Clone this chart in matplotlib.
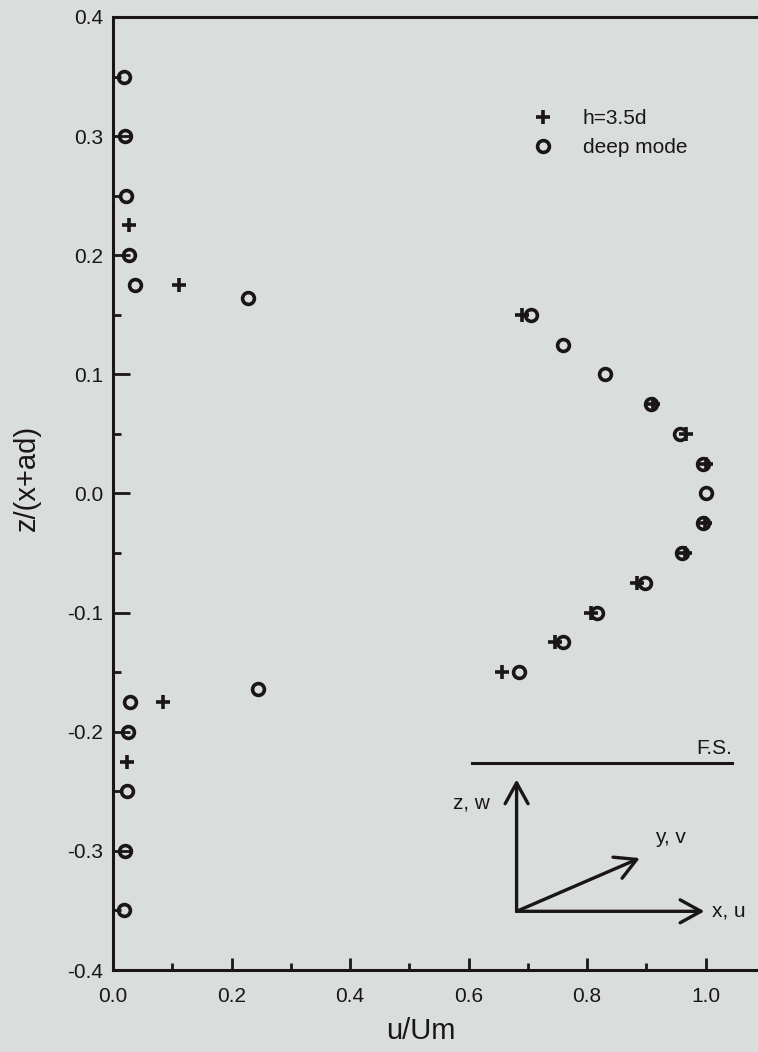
import numpy as np
import matplotlib as mpl
import matplotlib.pyplot as plt

mpl.rcParams['font.family'] = ['Liberation Sans', 'DejaVu Sans']
mpl.rcParams['font.size'] = 15

ink = '#1b1616'
paper = '#d9dddb'

# h=3.5d 实验点
h35_u = [0.027, 0.111, 0.69, 0.912, 0.967, 1.0, 0.999, 0.965, 0.884, 0.806, 0.746, 0.656, 0.085, 0.024]
h35_z = [0.225, 0.175, 0.15, 0.075, 0.05, 0.025, -0.025, -0.05, -0.075, -0.1, -0.125, -0.15, -0.175, -0.225]

# deep mode 实验点
deep_u = [0.019, 0.02, 0.022, 0.027, 0.037, 0.228, 0.705, 0.76, 0.83, 0.907, 0.956, 0.995, 1.0,
          0.995, 0.96, 0.897, 0.817, 0.76, 0.685, 0.245, 0.029, 0.025, 0.024, 0.02, 0.019]
deep_z = [0.35, 0.3, 0.25, 0.2, 0.175, 0.164, 0.15, 0.125, 0.1, 0.075, 0.05, 0.025, 0.0,
          -0.025, -0.05, -0.075, -0.1, -0.125, -0.15, -0.164, -0.175, -0.2, -0.25, -0.3, -0.35]

xticks = [0.0, 0.2, 0.4, 0.6, 0.8, 1.0]
yticks = [-0.4, -0.3, -0.2, -0.1, 0.0, 0.1, 0.2, 0.3, 0.4]

fig = plt.figure(figsize=(7.58, 10.52), dpi=100, facecolor=paper)
ax = fig.add_axes([0.1491, 0.0779, 0.860, 0.906], facecolor=paper)

ax.plot(h35_u, h35_z, ls='none', marker='+', ms=10, mew=2.6, color=ink, label='h=3.5d')
ax.plot(deep_u, deep_z, ls='none', marker='o', ms=8.5, mew=2.6, mfc='none', mec=ink, label='deep mode')

ax.set_xlim(0, 1.1)
ax.set_ylim(-0.4, 0.4)
ax.set_xticks(xticks)
ax.set_xticklabels(['%.1f' % v for v in xticks])
ax.set_yticks(yticks)
ax.set_yticklabels(['%.1f' % v for v in yticks])
ax.set_xticks(np.arange(0.1, 1.1, 0.2), minor=True)
ax.set_yticks(np.arange(-0.35, 0.4, 0.1), minor=True)

ax.tick_params(which='both', direction='in', color=ink, labelcolor=ink, width=2)
ax.tick_params(axis='x', which='major', length=9, pad=12)
ax.tick_params(axis='x', which='minor', length=5)
ax.tick_params(axis='y', which='major', length=12, pad=7)
ax.tick_params(axis='y', which='minor', length=6)

for s in ['left', 'bottom', 'top']:
    ax.spines[s].set_linewidth(2.2)
    ax.spines[s].set_color(ink)
ax.spines['right'].set_visible(False)

ax.set_xlabel('u/Um', fontsize=21, color=ink)
ax.set_ylabel('z/(x+ad)', fontsize=21, color=ink)
ax.xaxis.set_label_coords(0.472, -0.049)
ax.yaxis.set_label_coords(-0.11, 0.516)

ax.legend(loc='upper left', bbox_to_anchor=(0.6436, 0.9035), frameon=False,
          borderpad=0, borderaxespad=0, handlelength=1.0, handletextpad=1.42,
          labelspacing=0.5, fontsize=15, labelcolor=ink)

# 坐标系示意图
ax.plot([0.605, 1.045], [-0.2265, -0.2265], color=ink, lw=2.2)
ax.text(1.045, -0.214, 'F.S.', ha='right', va='center', fontsize=15, color=ink)

arr = dict(arrowstyle='->,head_length=1.0,head_width=0.55', color=ink, lw=2.4,
           shrinkA=0, shrinkB=0)
origin = (0.681, -0.3507)
ax.annotate('', xy=(0.681, -0.240), xytext=origin, arrowprops=arr)
ax.annotate('', xy=(0.889, -0.306), xytext=origin, arrowprops=arr)
ax.annotate('', xy=(0.998, -0.3507), xytext=origin, arrowprops=arr)
ax.text(0.636, -0.26, 'z, w', ha='right', va='center', fontsize=15, color=ink)
ax.text(0.914, -0.289, 'y, v', ha='left', va='center', fontsize=15, color=ink)
ax.text(1.01, -0.3507, 'x, u', ha='left', va='center', fontsize=15, color=ink)

fig.savefig('out.png', dpi=100, facecolor=paper)
